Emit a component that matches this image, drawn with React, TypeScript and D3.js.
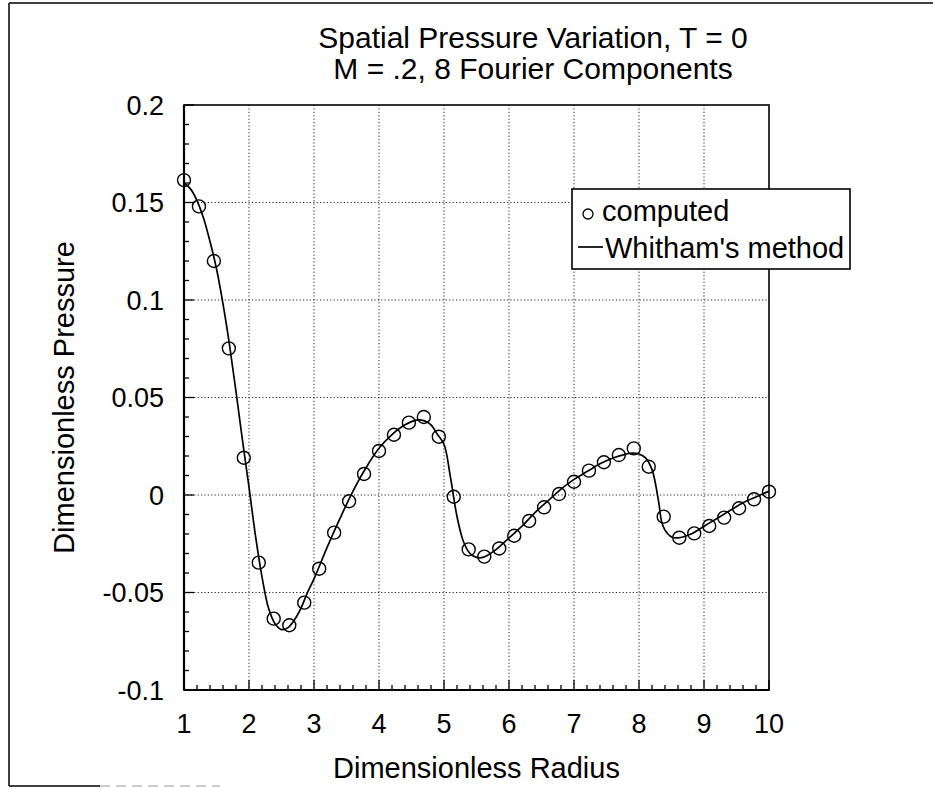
import React from "react";
import * as d3 from "d3";

// ---- data ----
const computedX = [
  1.0, 1.23, 1.46, 1.69, 1.92, 2.15, 2.38, 2.62, 2.85, 3.08,
  3.31, 3.54, 3.77, 4.0, 4.23, 4.46, 4.69, 4.92, 5.15, 5.38,
  5.62, 5.85, 6.08, 6.31, 6.54, 6.77, 7.0, 7.23, 7.46, 7.69,
  7.92, 8.15, 8.38, 8.62, 8.85, 9.08, 9.31, 9.54, 9.77, 10.0,
];
const computedY = [
  0.1615, 0.148, 0.12, 0.0752, 0.0191, -0.0347, -0.0634, -0.0668, -0.0552, -0.0378,
  -0.0193, -0.0032, 0.0108, 0.0226, 0.0309, 0.0371, 0.04, 0.0299, -0.0009, -0.0279,
  -0.0316, -0.0274, -0.0209, -0.0133, -0.0063, 0.0005, 0.0068, 0.0125, 0.0168, 0.0205,
  0.0239, 0.0145, -0.0111, -0.0219, -0.0197, -0.0159, -0.0116, -0.0068, -0.0022, 0.0017,
];
const whithamX = [
  1.0, 1.1, 1.2, 1.3, 1.4, 1.5, 1.6, 1.7, 1.8, 1.9,
  2.0, 2.1, 2.2, 2.3, 2.4, 2.5, 2.6, 2.7, 2.8, 2.9,
  3.0, 3.2, 3.4, 3.6, 3.8, 4.0, 4.2, 4.4, 4.6, 4.7,
  4.8, 4.9, 5.0, 5.1, 5.2, 5.3, 5.4, 5.5, 5.6, 5.8,
  6.0, 6.2, 6.4, 6.6, 6.8, 7.0, 7.2, 7.4, 7.6, 7.8,
  7.9, 8.0, 8.1, 8.2, 8.3, 8.35, 8.4, 8.5, 8.6, 8.8,
  9.0, 9.2, 9.4, 9.6, 9.8, 10.0,
];
const whithamY = [
  0.16, 0.157, 0.151, 0.142, 0.13, 0.116, 0.098, 0.077, 0.053, 0.028,
  0.004, -0.021, -0.042, -0.058, -0.066, -0.069, -0.068, -0.064, -0.058, -0.05,
  -0.043, -0.027, -0.012, 0.002, 0.014, 0.024, 0.031, 0.036, 0.0385, 0.038,
  0.036, 0.031, 0.026, 0.009, -0.011, -0.024, -0.03, -0.032, -0.032, -0.028,
  -0.022, -0.016, -0.009, -0.003, 0.003, 0.008, 0.012, 0.016, 0.019, 0.021,
  0.0215, 0.021, 0.019, 0.013, -0.003, -0.014, -0.018, -0.0215, -0.022, -0.02,
  -0.016, -0.012, -0.008, -0.004, -0.001, 0.002,
];
const xTicks = [1, 2, 3, 4, 5, 6, 7, 8, 9, 10];
const xTickLabels = ["1", "2", "3", "4", "5", "6", "7", "8", "9", "10"];
const yTicks = [-0.1, -0.05, 0, 0.05, 0.1, 0.15, 0.2];
const yTickLabels = ["-0.1", "-0.05", "0", "0.05", "0.1", "0.15", "0.2"];
const titleLines = ["Spatial Pressure Variation, T = 0", "M = .2, 8 Fourier Components"];
const xLabel = "Dimensionless Radius";
const yLabel = "Dimensionless Pressure";
const legendLabels = ["computed", "Whitham's method"];

const W = 933;
const H = 789;
const L = 184, R = 769, T = 105, B = 690;
const FONT = "'Liberation Sans', Arial, Helvetica, sans-serif";

export default function App() {
  const x = d3.scaleLinear().domain([1, 10]).range([L, R]);
  const y = d3.scaleLinear().domain([-0.1, 0.2]).range([B, T]);

  const curve = d3
    .line<number>()
    .x((_, i) => x(whithamX[i]))
    .y((d) => y(d))
    .curve(d3.curveCatmullRom.alpha(0.5));

  const xMinor = d3.range(0, 46).map((i) => 1 + i * 0.2);
  const yMinor = d3.range(0, 31).map((i) => -0.1 + i * 0.01);
  const isMajorX = (v: number) => Math.abs(v - Math.round(v)) < 1e-6;
  const isMajorY = (v: number) => Math.abs(v * 20 - Math.round(v * 20)) < 1e-6;

  return (
    <svg
      width={W}
      height={H}
      style={{ position: "absolute", left: 0, top: 0, background: "#fff" }}
      fontFamily={FONT}
    >
      <rect x={0} y={0} width={W} height={H} fill="#fff" />
      {/* outer scan border */}
      <line x1={9} y1={3} x2={W} y2={3} stroke="#000" strokeWidth={1.5} />
      <line x1={9} y1={3} x2={9} y2={786} stroke="#000" strokeWidth={1.5} />
      <line x1={9} y1={786} x2={100} y2={786} stroke="#000" strokeWidth={1.5} />
      <line x1={100} y1={786} x2={220} y2={786} stroke="#999" strokeWidth={1} strokeDasharray="10,6" />

      {/* title */}
      {titleLines.map((t, i) => (
        <text key={i} x={533} y={48 + i * 31} textAnchor="middle" fontSize={30} fill="#000">
          {t}
        </text>
      ))}

      {/* grid */}
      {xTicks.slice(1, -1).map((v) => (
        <line key={"gx" + v} x1={x(v)} x2={x(v)} y1={T} y2={B} stroke="#222" strokeWidth={1} strokeDasharray="1.2,2.2" />
      ))}
      {yTicks.slice(1, -1).map((v) => (
        <line key={"gy" + v} x1={L} x2={R} y1={y(v)} y2={y(v)} stroke="#222" strokeWidth={1} strokeDasharray="1.2,2.2" />
      ))}

      {/* ticks */}
      {xMinor.map((v, i) => (
        <line key={"tx" + i} x1={x(v)} x2={x(v)} y1={B} y2={B - (isMajorX(v) ? 10 : 5)} stroke="#000" strokeWidth={1.3} />
      ))}
      {yMinor.map((v, i) => (
        <line key={"ty" + i} x1={L} x2={L + (isMajorY(v) ? 10 : 5)} y1={y(v)} y2={y(v)} stroke="#000" strokeWidth={1.3} />
      ))}

      {/* frame */}
      <rect x={L} y={T} width={R - L} height={B - T} fill="none" stroke="#000" strokeWidth={1.6} />
      <line x1={L} x2={L} y1={T} y2={B} stroke="#000" strokeWidth={2.2} />
      <line x1={L} x2={R} y1={B} y2={B} stroke="#000" strokeWidth={2} />

      {/* Whitham line */}
      <path d={curve(whithamY) || ""} fill="none" stroke="#000" strokeWidth={1.7} />

      {/* computed circles */}
      {computedY.map((v, i) => (
        <circle key={"c" + i} cx={x(computedX[i])} cy={y(v)} r={6.5} fill="none" stroke="#000" strokeWidth={1.4} />
      ))}

      {/* tick labels */}
      {yTicks.map((v, i) => (
        <text key={"yl" + i} x={L - 20} y={y(v)} dy="0.36em" textAnchor="end" fontSize={27} fill="#000">
          {yTickLabels[i]}
        </text>
      ))}
      {xTicks.map((v, i) => (
        <text key={"xl" + i} x={x(v)} y={733} textAnchor="middle" fontSize={27} fill="#000">
          {xTickLabels[i]}
        </text>
      ))}

      {/* axis labels */}
      <text x={(L + R) / 2} y={778} textAnchor="middle" fontSize={29} fill="#000">
        {xLabel}
      </text>
      <text transform={`translate(74, ${(T + B) / 2}) rotate(-90)`} textAnchor="middle" fontSize={29} fill="#000">
        {yLabel}
      </text>

      {/* legend */}
      <rect x={572} y={189} width={278} height={80} fill="#fff" stroke="#000" strokeWidth={1.6} />
      <circle cx={588} cy={214} r={5} fill="none" stroke="#000" strokeWidth={1.3} />
      <text x={602} y={221} fontSize={29} fill="#000">{legendLabels[0]}</text>
      <line x1={578} x2={603} y1={247} y2={247} stroke="#000" strokeWidth={1.7} />
      <text x={605} y={258} fontSize={29} fill="#000">{legendLabels[1]}</text>
    </svg>
  );
}
